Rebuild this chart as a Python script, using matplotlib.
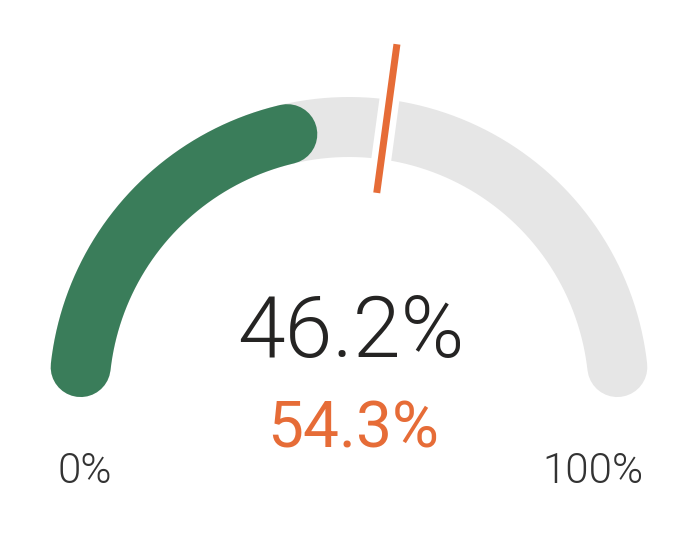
import numpy as np
import matplotlib
matplotlib.use("Agg")
import matplotlib.pyplot as plt

# ---- data ----
gauge_min = 0
gauge_max = 100
value = 46.2
target = 54.3
value_label = "46.2%"
target_label = "54.3%"
min_label = "0%"
max_label = "100%"

# ---- style ----
W, H, DPI = 694, 540, 100
CX, CY, R = 349.0, 397.0, 270.0   # gauge centre / mid radius (pixels)
BAND = 60.0                       # band thickness (pixels)
GREEN = "#3A7D5A"
GREY = "#E6E6E6"
ORANGE = "#E66C37"
DARK = "#252423"
LABEL = "#333333"

def px2pt(p):
    return p * 72.0 / DPI

fig = plt.figure(figsize=(W / DPI, H / DPI), dpi=DPI)
ax = fig.add_axes([0, 0, 1, 1])
ax.set_xlim(0, W)
ax.set_ylim(H, 0)
ax.set_aspect("equal")
ax.axis("off")

inset = np.degrees((BAND / 2) / R)   # round cap kept inside the value range

def angle(v):
    return 180.0 - 180.0 * (v - gauge_min) / (gauge_max - gauge_min)

def arc(v0, v1, color, z):
    a0 = angle(v0) - inset
    a1 = angle(v1) + inset
    t = np.radians(np.linspace(a0, a1, 400))
    ax.plot(CX + R * np.cos(t), CY - R * np.sin(t), color=color,
            lw=px2pt(BAND), solid_capstyle="round", zorder=z)

arc(gauge_min, gauge_max, GREY, 1)
arc(gauge_min, value, GREEN, 2)

# target marker
ta = np.radians(angle(target))
r_in, r_out = R - 64, R + 86
xs = [CX + r_in * np.cos(ta), CX + r_out * np.cos(ta)]
ys = [CY - r_in * np.sin(ta), CY - r_out * np.sin(ta)]
ax.plot(xs, ys, color="white", lw=px2pt(20), solid_capstyle="butt", zorder=3)
ax.plot(xs, ys, color=ORANGE, lw=px2pt(7), solid_capstyle="butt", zorder=4)

# texts
def fs(px):
    return px * 72.0 / DPI

ax.text(CX + 2, 357, value_label, ha="center", va="baseline", color=DARK,
        fontsize=fs(86), family="Roboto", fontweight=300)
ax.text(CX + 4, 448, target_label, ha="center", va="baseline", color=ORANGE,
        fontsize=fs(64), family="Roboto", fontweight=400)
ax.text(84.5, 483, min_label, ha="center", va="baseline", color=LABEL,
        fontsize=fs(42), family="Roboto", fontweight=300)
ax.text(592.5, 483, max_label, ha="center", va="baseline", color=LABEL,
        fontsize=fs(42), family="Roboto", fontweight=300)

fig.savefig("out.png", dpi=DPI, facecolor="white")
